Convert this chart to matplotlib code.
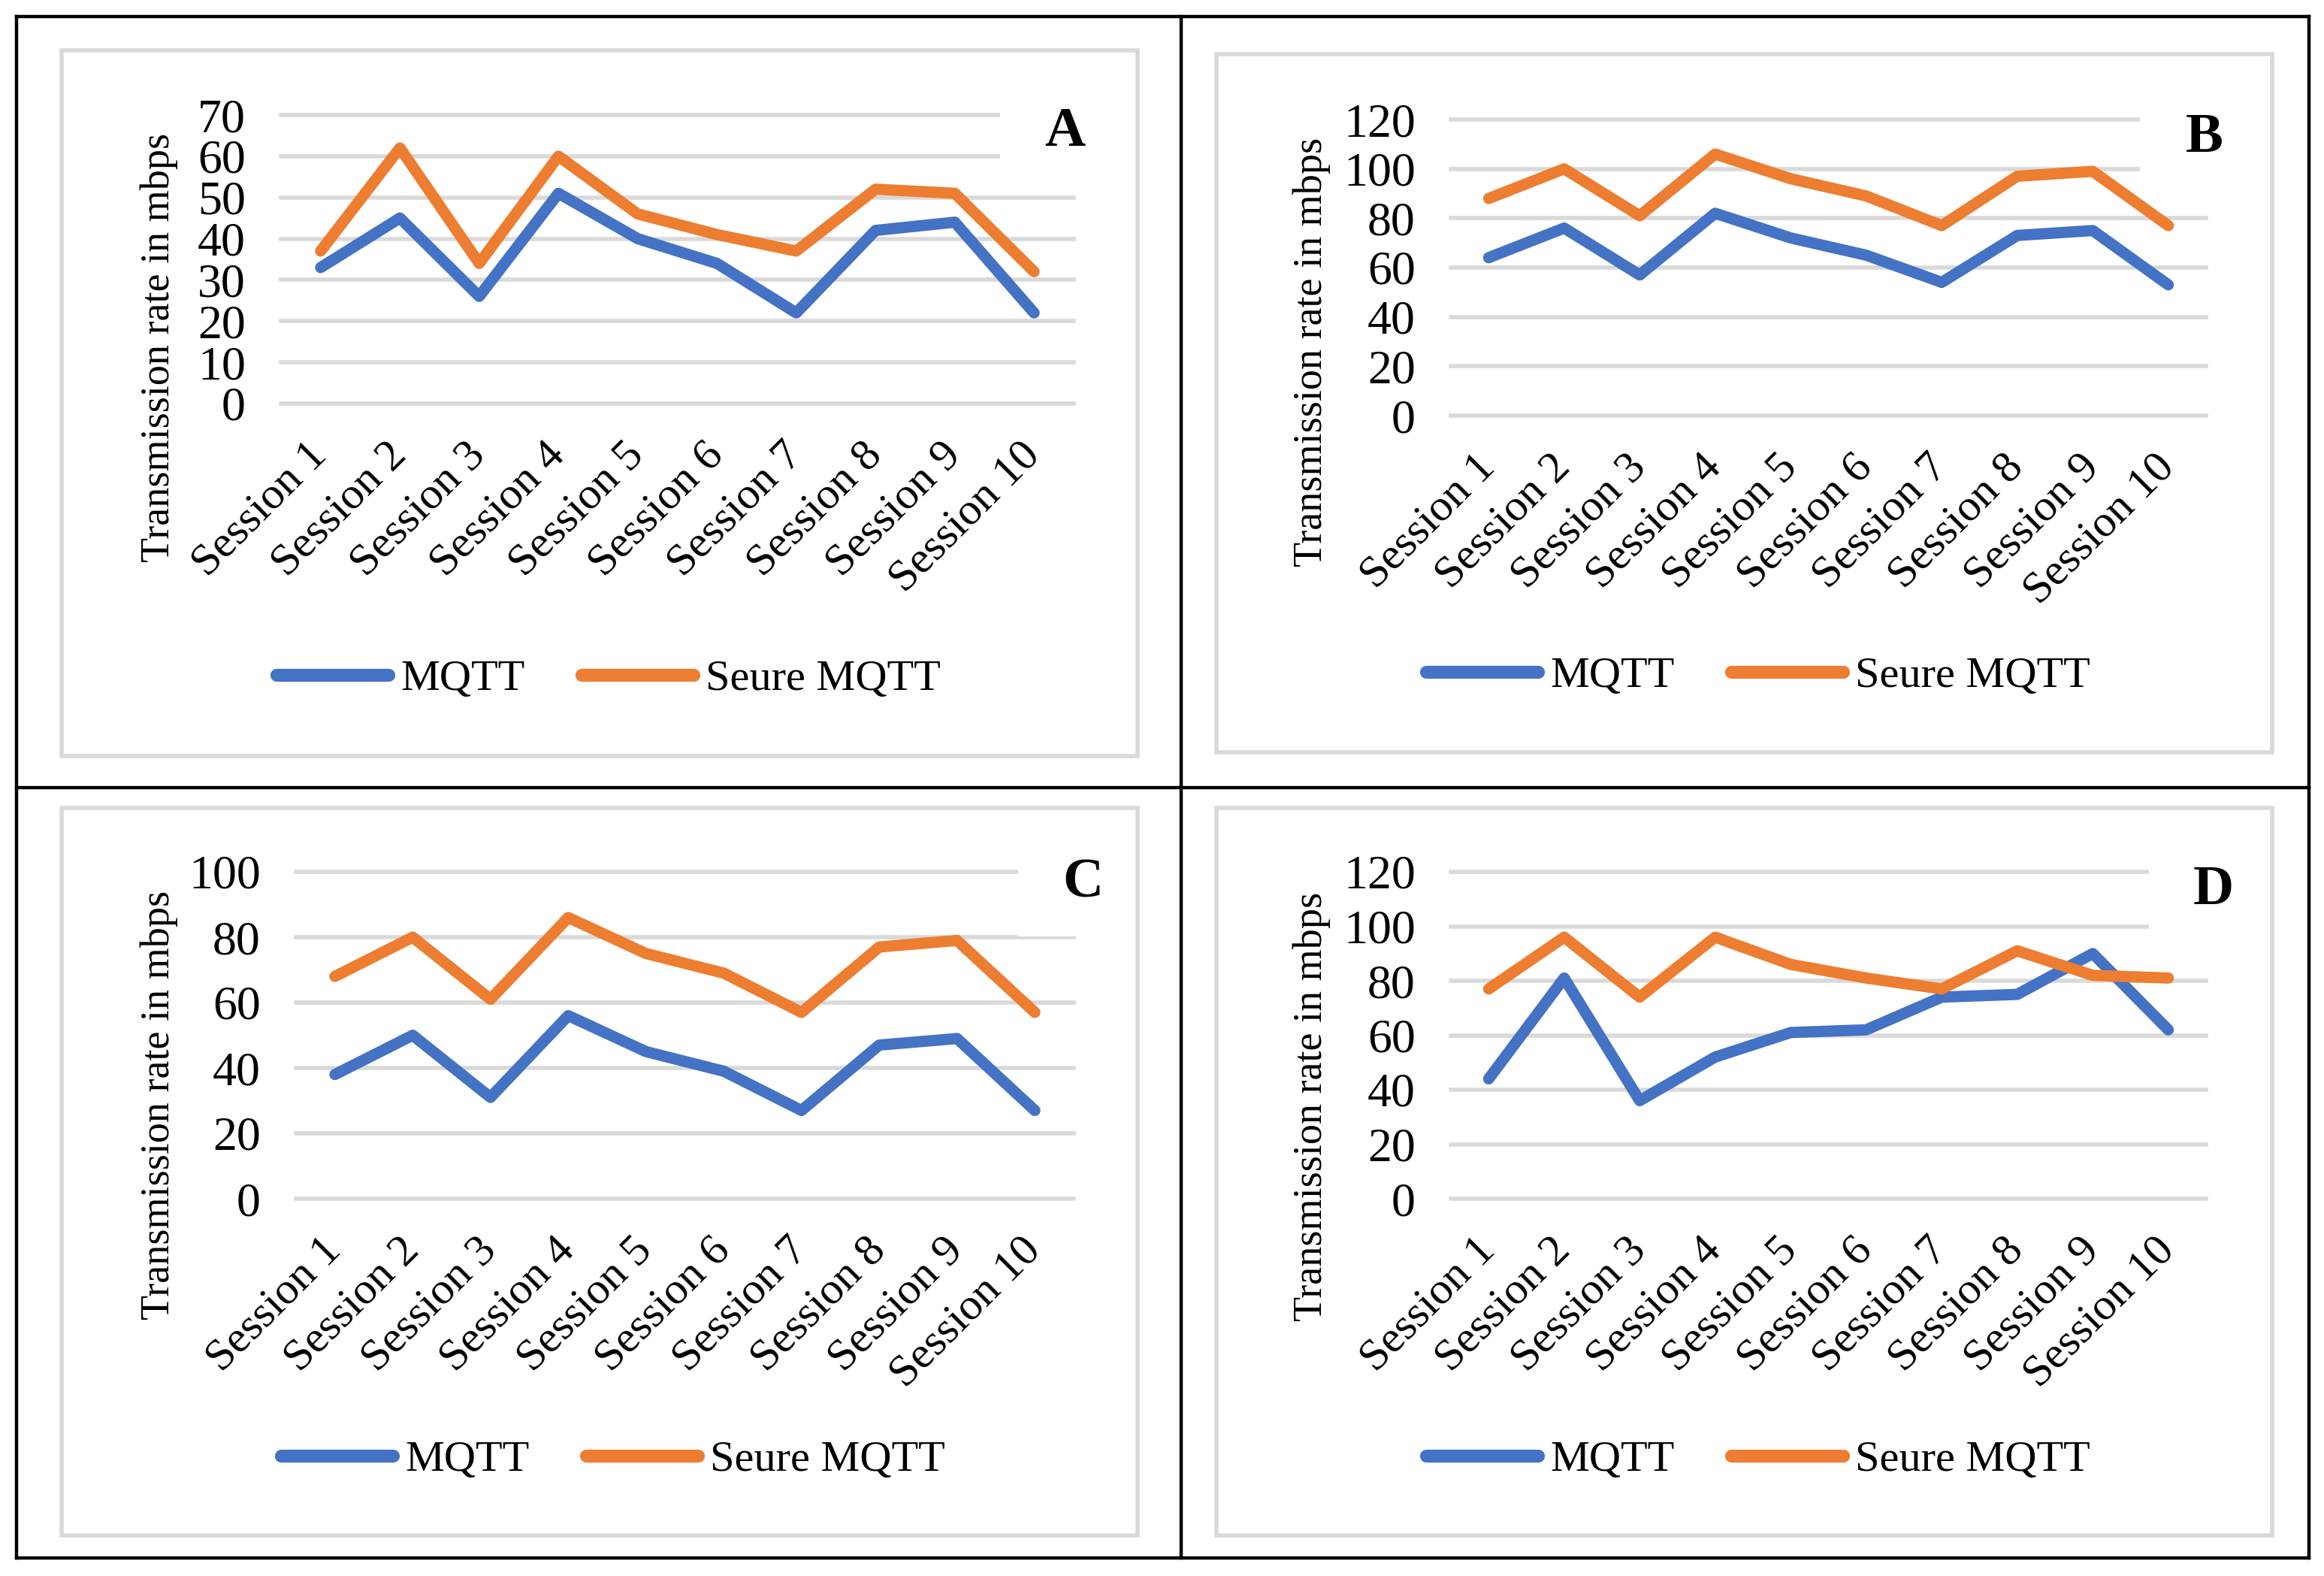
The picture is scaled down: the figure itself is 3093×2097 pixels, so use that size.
import matplotlib
matplotlib.use('Agg')
import matplotlib.pyplot as plt
from matplotlib.patches import Rectangle
from matplotlib.lines import Line2D

plt.rcParams['font.family'] = ['Liberation Serif', 'DejaVu Serif']

# ---------------- data ----------------
sessions = ['Session 1', 'Session 2', 'Session 3', 'Session 4', 'Session 5',
            'Session 6', 'Session 7', 'Session 8', 'Session 9', 'Session 10']
series_names = ['MQTT', 'Seure MQTT']

mqtt_a = [33, 45, 26, 51, 40, 34, 22, 42, 44, 22]
secure_a = [37, 62, 34, 60, 46, 41, 37, 52, 51, 32]
mqtt_b = [64, 76, 57, 82, 72, 65, 54, 73, 75, 53]
secure_b = [88, 100, 81, 106, 96, 89, 77, 97, 99, 77]
mqtt_c = [38, 50, 31, 56, 45, 39, 27, 47, 49, 27]
secure_c = [68, 80, 61, 86, 75, 69, 57, 77, 79, 57]
mqtt_d = [44, 81, 36, 52, 61, 62, 74, 75, 90, 62]
secure_d = [77, 96, 74, 96, 86, 81, 77, 91, 82, 81]

panel_labels = ['A', 'B', 'C', 'D']
y_max = [70, 120, 100, 120]
y_step = [10, 20, 20, 20]
y_title = 'Transmission rate in mbps'

# ---------------- styling / layout ----------------
W, H = 3093, 2097
DPI = 200
BLUE = '#4472C4'
ORANGE = '#ED7D31'
GRID = '#D9D9D9'


def fx(x):
    return x / W


def fy(y):
    return 1 - y / H


# layout in pixel coordinates of the output image
layouts = [
    dict(ax=(374, 1429, 153, 537), ylab=(212, 462), leg=(810, 904),
         box=(82, 1514, 67, 1006), lab=(1417, 176), white=(1331, 1450, 138, 236)),
    dict(ax=(1931, 2936, 159, 553), ylab=(1746, 468), leg=(2340, 900),
         box=(1619, 3024, 72, 1001), lab=(2934, 184), white=(2848, 2950, 140, 258)),
    dict(ax=(394, 1429, 1160, 1595), ylab=(212, 1470), leg=(816, 1943),
         box=(82, 1514, 1075, 2043), lab=(1441, 1175), white=(1355, 1450, 1140, 1246)),
    dict(ax=(1931, 2936, 1160, 1595), ylab=(1746, 1472), leg=(2340, 1943),
         box=(1619, 3024, 1075, 2043), lab=(2946, 1185), white=(2860, 2950, 1140, 1266)),
]

all_mqtt = [mqtt_a, mqtt_b, mqtt_c, mqtt_d]
all_secure = [secure_a, secure_b, secure_c, secure_d]

fig = plt.figure(figsize=(W / DPI, H / DPI), dpi=DPI)
fig.patch.set_facecolor('white')

# outer table borders
bl = 1.6
for (x0, y0, x1, y1) in [(22, 22, 3073, 22), (22, 2073, 3073, 2073), (22, 22, 22, 2073),
                         (3073, 22, 3073, 2073), (1572, 22, 1572, 2073), (22, 1048, 3073, 1048)]:
    fig.add_artist(Line2D([fx(x0), fx(x1)], [fy(y0), fy(y1)], color='black', lw=bl,
                          transform=fig.transFigure, solid_capstyle='projecting'))

x = list(range(len(sessions)))

for i, L in enumerate(layouts):
    # gray chart frame
    bx0, bx1, by0, by1 = L['box']
    fig.add_artist(Rectangle((fx(bx0), fy(by1)), fx(bx1) - fx(bx0), fy(by0) - fy(by1),
                             transform=fig.transFigure, fill=False, edgecolor=GRID, lw=2.0))

    ax0, ax1, ay0, ay1 = L['ax']
    ax = fig.add_axes([fx(ax0), fy(ay1), fx(ax1) - fx(ax0), fy(ay0) - fy(ay1)])
    ax.set_facecolor('none')
    for s in ax.spines.values():
        s.set_visible(False)
    ax.set_xlim(-0.5, len(sessions) - 0.5)
    ax.set_ylim(0, y_max[i])
    ax.set_yticks(list(range(0, y_max[i] + 1, y_step[i])))
    ax.set_axisbelow(True)
    ax.yaxis.grid(True, color=GRID, lw=2.0)
    for gl in ax.get_ygridlines():
        gl.set_clip_on(False)
    ax.tick_params(axis='y', length=0, pad=17, labelsize=23)
    ax.set_xticks(x)
    ax.set_xticklabels(sessions, rotation=45, ha='right', va='center',
                       rotation_mode='anchor', fontsize=21.5)
    ax.tick_params(axis='x', length=0, pad=22)

    ax.plot(x, all_mqtt[i], color=BLUE, lw=5.4, solid_joinstyle='round',
            solid_capstyle='round', clip_on=False, zorder=3, label=series_names[0])
    ax.plot(x, all_secure[i], color=ORANGE, lw=5.4, solid_joinstyle='round',
            solid_capstyle='round', clip_on=False, zorder=3, label=series_names[1])

    # white box behind the panel letter
    wx0, wx1, wy0, wy1 = L['white']
    fig.add_artist(Rectangle((fx(wx0), fy(wy1)), fx(wx1) - fx(wx0), fy(wy0) - fy(wy1),
                             transform=fig.transFigure, facecolor='white', edgecolor='none',
                             zorder=2))
    lx, ly = L['lab']
    fig.text(fx(lx), fy(ly), panel_labels[i], fontsize=27, fontweight='bold',
             ha='center', va='center', zorder=5)

    # y title
    yx, yy = L['ylab']
    fig.text(fx(yx), fy(yy), y_title, rotation=90, fontsize=19.5, ha='center', va='center')

    # legend
    gx, gy = L['leg']
    h1 = Line2D([], [], color=BLUE, lw=6.2, solid_capstyle='round')
    h2 = Line2D([], [], color=ORANGE, lw=6.2, solid_capstyle='round')
    fig.legend([h1, h2], series_names, loc='center', bbox_to_anchor=(fx(gx), fy(gy)),
               bbox_transform=fig.transFigure, ncol=2, frameon=False, fontsize=21,
               handlelength=2.55, handletextpad=0.28, columnspacing=1.3,
               borderpad=0, borderaxespad=0)

fig.savefig('out.png', dpi=DPI, facecolor='white')
